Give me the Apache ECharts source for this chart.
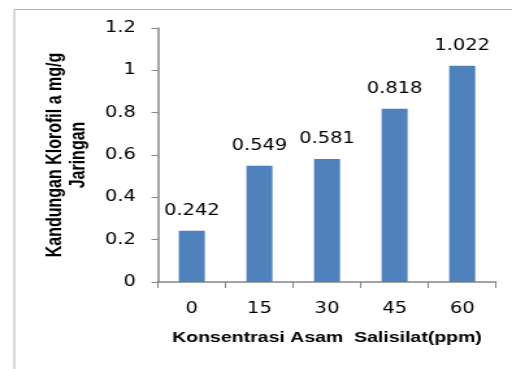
<!DOCTYPE html>
<html>
<head>
<meta charset="utf-8">
<script src="https://cdn.jsdelivr.net/npm/echarts@6/dist/echarts.min.js"></script>
<style>
  html, body { margin: 0; padding: 0; background: #fff; overflow: hidden; }
  /* the source picture is stretched sideways, so the chart is drawn narrower and widened */
  #chart { width: 394px; height: 369px; transform: scaleX(1.2995); transform-origin: 0 0; }
</style>
</head>
<body>
<div id="chart"></div>
<script>
// data
var categories = ["0", "15", "30", "45", "60"];
var klorofil = [0.242, 0.549, 0.581, 0.818, 1.022];
var yTicks = [0, 0.2, 0.4, 0.6, 0.8, 1, 1.2];

var Chart = echarts.init(document.getElementById("chart"));

var option = {
    animation: false,
    backgroundColor: "#fff",
    graphic: [{
        type: "rect",
        left: 8.5,
        top: 7,
        shape: { width: 600, height: 400 },
        style: { fill: "none", stroke: "#b4b4b4", lineWidth: 1 },
        silent: true
    }],
    grid: { left: 121.6, right: 12.3, top: 28, bottom: 87 },
    xAxis: {
        type: "category",
        data: categories,
        name: "Konsentrasi Asam  Salisilat(ppm)",
        nameLocation: "middle",
        nameGap: 48,
        nameTextStyle: { fontFamily: "Liberation Sans", fontWeight: "bold", fontSize: 15, color: "#000" },
        axisLine: { lineStyle: { color: "#868686", width: 1.5 } },
        axisTick: { show: true, length: 6, lineStyle: { color: "#868686" } },
        axisLabel: { fontFamily: "DejaVu Sans", fontSize: 15, color: "#000", margin: 20 }
    },
    yAxis: {
        type: "value",
        min: yTicks[0],
        max: yTicks[yTicks.length - 1],
        interval: 0.2,
        name: "Kandungan Klorofil a mg/g\nJaringan",
        nameLocation: "middle",
        nameGap: 47,
        nameRotate: 90,
        nameTextStyle: { fontFamily: "Liberation Sans", fontWeight: "bold", fontSize: 16, color: "#000", lineHeight: 18.5 },
        axisLine: { show: true, lineStyle: { color: "#868686", width: 1.5 } },
        axisTick: { show: true, length: 5, lineStyle: { color: "#868686" } },
        splitLine: { show: false },
        axisLabel: { fontFamily: "DejaVu Sans", fontSize: 15, color: "#000", margin: 17 }
    },
    series: [{
        type: "bar",
        data: klorofil,
        barWidth: 20,
        itemStyle: { color: "#4F81BD" },
        label: {
            show: true,
            position: "top",
            distance: 12,
            fontFamily: "DejaVu Sans",
            fontSize: 15,
            color: "#000",
            formatter: function (p) { return p.value.toFixed(3); }
        }
    }]
};

Chart.setOption(option);
</script>
</body>
</html>
